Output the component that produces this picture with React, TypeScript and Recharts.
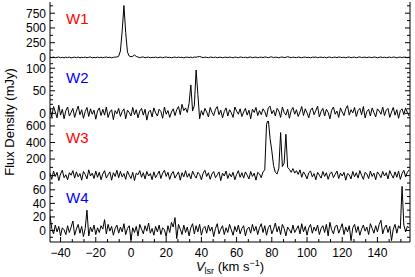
import React from 'react';
import { LineChart, Line, XAxis, YAxis } from 'recharts';

// Channel velocities (km/s)
const VELOCITY = [
  -46, -45, -44, -43, -42, -41, -40, -39, -38, -37,
  -36, -35, -34, -33, -32, -31, -30, -29, -28, -27,
  -26, -25, -24, -23, -22, -21, -20, -19, -18, -17,
  -16, -15, -14, -13, -12, -11, -10, -9, -8, -7,
  -6, -5, -4, -3, -2, -1, 0, 1, 2, 3,
  4, 5, 6, 7, 8, 9, 10, 11, 12, 13,
  14, 15, 16, 17, 18, 19, 20, 21, 22, 23,
  24, 25, 26, 27, 28, 29, 30, 31, 32, 33,
  34, 35, 36, 37, 38, 39, 40, 41, 42, 43,
  44, 45, 46, 47, 48, 49, 50, 51, 52, 53,
  54, 55, 56, 57, 58, 59, 60, 61, 62, 63,
  64, 65, 66, 67, 68, 69, 70, 71, 72, 73,
  74, 75, 76, 77, 78, 79, 80, 81, 82, 83,
  84, 85, 86, 87, 88, 89, 90, 91, 92, 93,
  94, 95, 96, 97, 98, 99, 100, 101, 102, 103,
  104, 105, 106, 107, 108, 109, 110, 111, 112, 113,
  114, 115, 116, 117, 118, 119, 120, 121, 122, 123,
  124, 125, 126, 127, 128, 129, 130, 131, 132, 133,
  134, 135, 136, 137, 138, 139, 140, 141, 142, 143,
  144, 145, 146, 147, 148, 149, 150, 151, 152, 153,
  154, 155, 156, 157, 158,
];

// Flux density (mJy) per channel
const W1 = [
  4, -3, 6, -5, 2, 8, -4, 3, -6, 5,
  -2, 6, -7, 1, 5, -3, 7, -5, 2, -1,
  6, -4, 3, 8, -6, 2, -3, 5, -2, 4,
  -5, 3, 7, -2, 4, -6, 2, 6, 8, 20,
  110, 450, 880, 420, 90, 25, 12, 20, 42, 18,
  6, -3, 5, 8, -4, 2, 6, -5, 3, -2,
  7, -4, 2, 5, -6, 3, 8, -2, 4, -5,
  2, 6, -3, 7, -1, 4, -6, 3, 5, -2,
  6, -4, 8, 3, 12, 16, 6, -3, 5, 2,
  -5, 7, 3, -2, 6, -4, 2, 5, -6, 3,
  4, -3, 7, 1, -5, 6, 2, -4, 8, 3,
  -2, 5, -6, 4, 7, -3, 2, 6, -5, 3,
  5, -2, 8, 4, -4, 6, 10, -3, 5, 2,
  -6, 4, 7, -2, 3, 12, 5, -4, 6, 1,
  -3, 7, 2, -5, 4, 6, -2, 3, -6, 5,
  2, 8, -4, 3, 6, -2, 5, -5, 4, 7,
  -3, 2, 6, -4, 8, 3, -2, 5, -6, 4,
  7, -3, 2, 6, -5, 4, 9, -2, 3, 5,
  -4, 6, 2, -3, 7, 4, -5, 3, 8, -2,
  5, -4, 2, 6, -3, 7, 4, -6, 3, 5,
  -2, 6, 3, -4, 5,
];

const W2 = [
  12, -8, 15, 3, -10, 18, -4, 9, -12, 6,
  14, -6, 2, 11, -9, 5, 16, -3, 8, -11,
  4, 13, -7, 10, -2, 7, -13, 5, 12, -5,
  9, -4, 14, -9, 3, 8, -14, 6, -1, 11,
  -7, 4, 10, -12, 7, 2, -6, 13, -3, 8,
  -10, 5, 11, -4, 9, -15, 3, 7, -8, 12,
  1, -6, 9, 4, -11, 14, -2, 6, -9, 3,
  10, -5, 8, 15, -3, 20, 6, 12, 2, 22,
  63, 5, 18, 96, 42, -12, 6, -4, 11, 3,
  -8, 13, 2, -5, 9, 15, -3, 7, -10, 4,
  12, -6, 8, 1, -9, 14, 5, -2, 10, -7,
  3, 11, -4, 7, -12, 9, 2, 13, -5, 6,
  -3, 10, 4, -8, 12, 16, -1, 7, -6, 11,
  5, -9, 14, 2, -4, 9, -11, 6, 13, -2,
  8, -7, 3, 15, -5, 10, 1, -10, 7, 12,
  -3, 6, 16, -8, 4, 11, -6, 9, 2, -12,
  7, 14, -2, 5, -9, 12, 3, -5, 10, 17,
  -4, 8, 1, 13, -7, 6, 11, -3, 15, -10,
  4, 9, -6, 12, 2, -8, 10, 5, -2, 14,
  -5, 7, 11, -9, 3, 13, -4, 8, -11, 6,
  10, -3, 12, 2, -6,
];

const W3 = [
  30, -45, 55, -10, 40, -60, 20, 65, -25, 10,
  -50, 35, 5, 60, -30, 45, -15, 25, -55, 50,
  15, -40, 70, -5, 30, -35, 55, -20, 40, -50,
  20, 60, -30, 10, 45, -55, 35, -10, 65, -25,
  50, -15, 25, -45, 55, 5, -35, 40, -60, 30,
  10, 60, -20, 35, -40, 50, -5, 25, -50, 45,
  -25, 15, 55, -35, 30, 65, -10, 40, -45, 20,
  50, -30, 10, 45, -55, 35, -15, 60, -20, 25,
  -40, 55, 5, -30, 40, 15, -50, 30, 65, -10,
  35, -45, 20, 50, -25, 10, 45, -60, 30, -5,
  55, -35, 25, -15, 40, -50, 15, 60, -20, 35,
  -30, 45, 5, -40, 50, -10, 30, -55, 40, 20,
  -25, 45, 70, 620, 680, 450, 300, 120, 40, 20,
  90, 520, 110, 150, 500, 100, 75, 40, 85, 30,
  60, 15, 70, -20, 45, 10, -40, 35, 55, -15,
  25, -50, 40, 5, -30, 50, -10, 35, -45, 20,
  45, -25, 15, 55, -35, 30, -5, 40, -55, 25,
  10, -40, 50, -15, 35, -30, 60, 5, -45, 40,
  20, -35, 55, -10, 30, -50, 45, 15, -25, 50,
  -5, 35, -40, 60, 10, -30, 45, -20, 55, -45,
  25, 65, -15, 40, 70,
];

const W4 = [
  22, 3, -5, 8, -2, 6, -8, 4, 1, -6,
  7, -3, 5, 14, -7, 2, 9, -4, 6, -9,
  3, 30, -8, 5, -2, 8, -6, 4, -3, 7,
  2, 16, -5, 9, -1, 6, -7, 3, 8, -4,
  5, -2, 10, -6, 3, 7, -14, 4, -3, 6,
  -8, 9, 2, -5, 7, -1, 11, -4, 3, -7,
  6, -2, 8, -6, 4, 1, -9, 7, -3, 12,
  5, 19, -12, 9, 2, -6, 8, -3, 5, -8,
  4, 10, -5, 7, -2, 9, -7, 3, 6, -4,
  8, -1, 5, -9, 3, 10, -5, 2, 7, -6,
  4, -3, 9, 1, -7, 6, -2, 8, -5, 3,
  7, -8, 2, 5, -4, 9, -1, 6, -6, 4,
  10, -3, 7, -7, 4, 8, -5, 2, 11, -2,
  6, -6, 9, 3, -8, 5, 1, -4, 8, -3,
  2, 7, -5, 10, -2, 6, -7, 4, 9, -4,
  5, -1, 8, -6, 3, 7, -3, 9, -8, 12,
  1, -5, 6, 8, -4, 3, 10, -6, 5, -2,
  7, -15, 4, 9, -3, 6, -7, 2, 8, -1,
  5, -6, 10, 3, -4, 7, -2, 9, 15, -5,
  4, 8, -3, 6, -15, 2, 9, -4, 7, 3,
  65, 8, -2, 6, 4,
];

const PANEL_LABELS = ['W1', 'W2', 'W3', 'W4'];
const PANEL_COLORS = ['#ff0000', '#0000ff', '#ff0000', '#0000ff'];

const X_MAJOR = [-40, -20, 0, 20, 40, 60, 80, 100, 120, 140];
const Y_MAJOR = [
  [0, 250, 500, 750],
  [0, 50, 100],
  [0, 200, 400, 600],
  [0, 20, 40, 60],
];
const Y_MINOR_STEP = [125, 10, 100, 10];
const Y_DOMAIN: [number, number][] = [
  [-60, 940],
  [-17, 116],
  [-65, 660],
  [-17, 73],
];
const X_DOMAIN: [number, number] = [-46, 158.5];

const FONT = '"Liberation Sans", Arial, Helvetica, sans-serif';
const W = 415;
const PLOT_L = 50;
const PLOT_R = 410;
const PAD = 6;
const PANEL_TOPS = [2, 61, 121, 181];
const PANEL_BOTTOM = 242;
const X_AXIS_H = 30;

const fmt = (v: number) => (v < 0 ? '\u2212' + Math.abs(v) : String(v));
const isIn = (arr: number[], v: number) => arr.some((m) => Math.abs(m - v) < 1e-6);

const X_TICKS: number[] = (() => {
  const t: number[] = [];
  for (let i = 0; i < X_MAJOR.length; i++) {
    const m = X_MAJOR[i];
    for (let k = -1; k <= 2; k++) {
      const v = m + (k * 20) / 3;
      if (v >= X_DOMAIN[0] && v <= X_DOMAIN[1] && !t.some((q) => Math.abs(q - v) < 1e-6)) t.push(v);
    }
  }
  return t.sort((a, b) => a - b);
})();

const yTicksFor = (p: number): number[] => {
  const [lo, hi] = Y_DOMAIN[p];
  const step = Y_MINOR_STEP[p];
  const t: number[] = [];
  for (let v = Math.ceil(lo / step) * step; v <= hi; v += step) t.push(v);
  return t;
};

const SERIES = [W1, W2, W3, W4];

function Panel({ p }: { p: number }) {
  const top = PANEL_TOPS[p];
  const bottom = p < 3 ? PANEL_TOPS[p + 1] : PANEL_BOTTOM;
  const h = bottom - top;
  const last = p === 3;
  const chartH = h + 2 * PAD + (last ? X_AXIS_H : 0);
  const rows = VELOCITY.map((v, i) => ({ v, f: SERIES[p][i] }));
  const yMajor = Y_MAJOR[p];
  const yBottomSvg = PAD + h;

  const leftTick = (props: any) => {
    const { y, payload } = props;
    const v = payload.value;
    const major = isIn(yMajor, v);
    const len = major ? 5 : 3;
    return (
      <g>
        <line x1={PLOT_L} x2={PLOT_L + len} y1={y} y2={y} stroke="#000" strokeWidth={1} />
        {major && (
          <text x={PLOT_L - 4} y={y} dy={4.3} textAnchor="end" fontSize={12} fontFamily={FONT} fill="#000">
            {fmt(v)}
          </text>
        )}
      </g>
    );
  };
  const rightTick = (props: any) => {
    const { y, payload } = props;
    const major = isIn(yMajor, payload.value);
    const len = major ? 5 : 3;
    return <line x1={PLOT_R} x2={PLOT_R - len} y1={y} y2={y} stroke="#000" strokeWidth={1} />;
  };
  const bottomTick = (props: any) => {
    const { x, payload } = props;
    const v = payload.value;
    const major = isIn(X_MAJOR, v);
    const len = major ? 5 : 3;
    return (
      <g>
        <line x1={x} x2={x} y1={yBottomSvg} y2={yBottomSvg - len} stroke="#000" strokeWidth={1} />
        {last && major && (
          <text x={x} y={yBottomSvg + 15} textAnchor="middle" fontSize={12} fontFamily={FONT} fill="#000">
            {fmt(v)}
          </text>
        )}
      </g>
    );
  };
  const topTick = (props: any) => {
    const { x, payload } = props;
    const major = isIn(X_MAJOR, payload.value);
    const len = major ? 5 : 3;
    return <line x1={x} x2={x} y1={PAD} y2={PAD + len} stroke="#000" strokeWidth={1} />;
  };

  const axisLine = { stroke: '#000', strokeWidth: 1 };

  return (
    <div style={{ position: 'absolute', left: 0, top: top - PAD, width: W, height: chartH }}>
      <LineChart
        width={W}
        height={chartH}
        data={rows}
        margin={{ top: PAD, right: W - PLOT_R - 1, bottom: PAD, left: 0 }}
      >
        <XAxis
          xAxisId="b"
          dataKey="v"
          type="number"
          scale="linear"
          domain={X_DOMAIN}
          allowDataOverflow
          ticks={X_TICKS}
          interval={0}
          tick={bottomTick}
          tickLine={false}
          axisLine={axisLine}
          height={last ? X_AXIS_H : 0}
        />
        <XAxis
          xAxisId="t"
          orientation="top"
          dataKey="v"
          type="number"
          scale="linear"
          domain={X_DOMAIN}
          allowDataOverflow
          ticks={X_TICKS}
          interval={0}
          tick={topTick}
          tickLine={false}
          axisLine={axisLine}
          height={0}
        />
        <YAxis
          yAxisId="l"
          type="number"
          domain={Y_DOMAIN[p]}
          allowDataOverflow
          ticks={yTicksFor(p)}
          interval={0}
          tick={leftTick}
          tickLine={false}
          axisLine={axisLine}
          width={PLOT_L}
        />
        <YAxis
          yAxisId="r"
          orientation="right"
          type="number"
          domain={Y_DOMAIN[p]}
          allowDataOverflow
          ticks={yTicksFor(p)}
          interval={0}
          tick={rightTick}
          tickLine={false}
          axisLine={axisLine}
          width={1}
        />
        <Line
          xAxisId="b"
          yAxisId="l"
          type="linear"
          dataKey="f"
          stroke="#000"
          strokeWidth={1}
          dot={false}
          activeDot={false}
          isAnimationActive={false}
        />
      </LineChart>
    </div>
  );
}

export default function App() {
  return (
    <div style={{ position: 'absolute', left: 0, top: 0, width: W, height: 277, background: '#fff' }}>
      {[0, 1, 2, 3].map((p) => (
        <Panel key={p} p={p} />
      ))}
      <svg
        width={W}
        height={277}
        style={{ position: 'absolute', left: 0, top: 0, pointerEvents: 'none' }}
        fontFamily={FONT}
      >
        {PANEL_LABELS.map((lab, i) => (
          <text key={lab} x={66} y={PANEL_TOPS[i] + 22} fontSize={15} fill={PANEL_COLORS[i]}>
            {lab}
          </text>
        ))}
        <text transform="translate(14,122) rotate(-90)" textAnchor="middle" fontSize={13} fill="#000">
          Flux Density (mJy)
        </text>
        <text x={230} y={271} textAnchor="middle" fontSize={13} fill="#000">
          <tspan fontStyle="italic">V</tspan>
          <tspan fontSize={9} dy={3}>lsr</tspan>
          <tspan dy={-3}> (km s</tspan>
          <tspan fontSize={9} dy={-5}>{'\u2212'}1</tspan>
          <tspan dy={5}>)</tspan>
        </text>
      </svg>
    </div>
  );
}
